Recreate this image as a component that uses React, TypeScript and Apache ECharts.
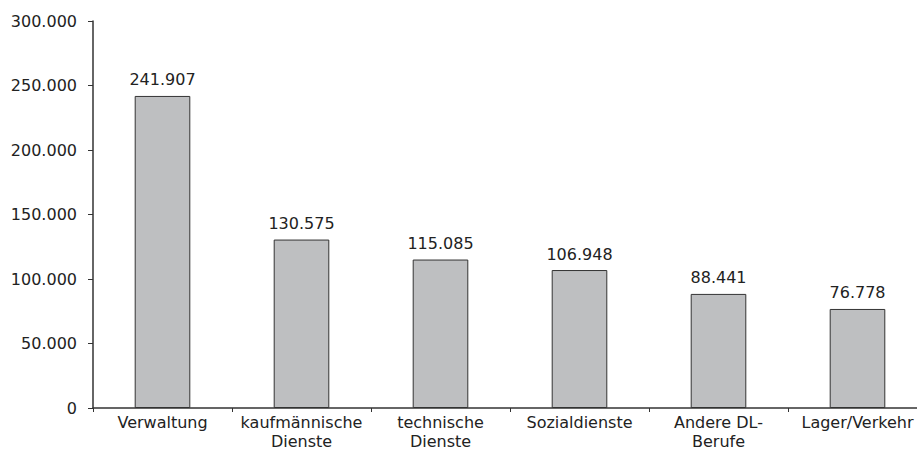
import React, { useEffect, useRef } from "react";
import * as echarts from "echarts";

const categories = [
  "Verwaltung",
  "kaufmännische\nDienste",
  "technische\nDienste",
  "Sozialdienste",
  "Andere DL-\nBerufe",
  "Lager/Verkehr",
];
const values = [241907, 130575, 115085, 106948, 88441, 76778];
const yTicks = { min: 0, max: 300000, interval: 50000 };

const fmt = (v: number) =>
  v === 0 ? "0" : String(Math.round(v)).replace(/\B(?=(\d{3})+(?!\d))/g, ".");

export default function App() {
  const ref = useRef<HTMLDivElement>(null);
  useEffect(() => {
    if (!ref.current) return;
    const chart = echarts.init(ref.current, undefined, { renderer: "svg" });
    chart.setOption({
      animation: false,
      grid: { left: 93, top: 21, width: 834, height: 387 },
      xAxis: {
        type: "category",
        data: categories,
        axisLine: { lineStyle: { color: "#333", width: 1.5 } },
        axisTick: { show: true, length: 4, lineStyle: { color: "#333" } },
        axisLabel: {
          color: "#222",
          fontSize: 16,
          fontFamily: "DejaVu Sans",
          margin: 5,
          lineHeight: 19,
          interval: 0,
        },
      },
      yAxis: {
        type: "value",
        min: yTicks.min,
        max: yTicks.max,
        interval: yTicks.interval,
        splitLine: { show: false },
        axisLine: { show: true, lineStyle: { color: "#333", width: 1.5 } },
        axisTick: { show: true, length: 5, lineStyle: { color: "#333" } },
        axisLabel: {
          color: "#222",
          fontSize: 16,
          fontFamily: "DejaVu Sans",
          margin: 16,
          formatter: (v: number) => fmt(v),
        },
      },
      series: [
        {
          type: "bar",
          data: values,
          barWidth: "40%",
          itemStyle: { color: "#bebfc1", borderColor: "#333", borderWidth: 1 },
          label: {
            show: true,
            position: "top",
            distance: 8,
            color: "#222",
            fontSize: 16,
            fontFamily: "DejaVu Sans",
            formatter: (p: any) => fmt(p.value),
          },
        },
      ],
    });
    return () => chart.dispose();
  }, []);
  return (
    <div
      style={{
        position: "fixed",
        left: 0,
        top: 0,
        width: 917,
        height: 452,
        overflow: "hidden",
        background: "#fff",
      }}
    >
      <div ref={ref} style={{ width: 950, height: 452 }} />
    </div>
  );
}
